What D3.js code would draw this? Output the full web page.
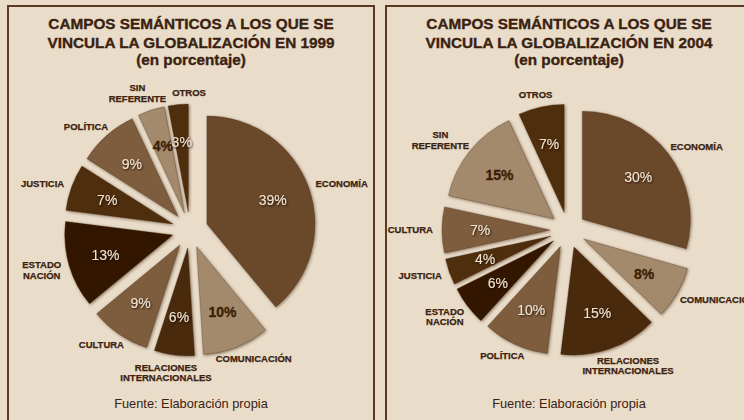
<!DOCTYPE html>
<html><head><meta charset="utf-8">
<script src="https://cdn.jsdelivr.net/npm/d3@7"></script>
<style>
html,body{margin:0;padding:0;background:#e9dcc9;}
svg{display:block;}
text{font-family:"Liberation Sans",Arial,Helvetica,sans-serif;}
</style></head><body>
<svg id="chart" width="744" height="420"></svg>
<script>
// ---- data ----
const titles1999 = ["CAMPOS SEMÁNTICOS A LOS QUE SE", "VINCULA LA GLOBALIZACIÓN EN 1999", "(en porcentaje)"];
const titles2004 = ["CAMPOS SEMÁNTICOS A LOS QUE SE", "VINCULA LA GLOBALIZACIÓN EN 2004", "(en porcentaje)"];
const categories1999 = ["ECONOMÍA", "COMUNICACIÓN", "RELACIONES INTERNACIONALES", "CULTURA", "ESTADO NACIÓN", "JUSTICIA", "POLÍTICA", "SIN REFERENTE", "OTROS"];
const values1999 = [39, 10, 6, 9, 13, 7, 9, 4, 3];
const categories2004 = ["ECONOMÍA", "COMUNICACIÓN", "RELACIONES INTERNACIONALES", "POLÍTICA", "ESTADO NACIÓN", "JUSTICIA", "CULTURA", "SIN REFERENTE", "OTROS"];
const values2004 = [30, 8, 15, 10, 6, 4, 7, 15, 7];
const sourceNote = "Fuente: Elaboración propia";

// ---- styles ----
const colorDomain = ["ECONOMÍA", "COMUNICACIÓN", "RELACIONES INTERNACIONALES", "CULTURA", "ESTADO NACIÓN", "JUSTICIA", "POLÍTICA", "SIN REFERENTE", "OTROS"];
const colorRange = ["#6b4a2b", "#a48a6c", "#4a2a0b", "#7d5d3d", "#311605", "#4f2f0c", "#7d5d3d", "#a48a6c", "#4f2f0c"];
const color = d3.scaleOrdinal().domain(colorDomain).range(colorRange);
const isLight = c => d3.hsl(color(c)).l > 0.45;
const ink = "#3b2210";

const svg = d3.select("#chart");
const defs = svg.append("defs");

const f1 = defs.append("filter").attr("id", "sliceShadow").attr("x", "-20%").attr("y", "-20%").attr("width", "140%").attr("height", "140%");
f1.append("feGaussianBlur").attr("in", "SourceAlpha").attr("stdDeviation", 1.8).attr("result", "b");
f1.append("feOffset").attr("in", "b").attr("dx", 1).attr("dy", 1).attr("result", "o");
f1.append("feFlood").attr("flood-color", "#3b1f08").attr("flood-opacity", 0.55);
f1.append("feComposite").attr("in2", "o").attr("operator", "in").attr("result", "s");
const m1 = f1.append("feMerge");
m1.append("feMergeNode").attr("in", "s");
m1.append("feMergeNode").attr("in", "SourceGraphic");

defs.append("filter").attr("id", "txtDark").append("feDropShadow")
  .attr("dx", 1).attr("dy", 1).attr("stdDeviation", 0.8).attr("flood-color", "#1e0d02").attr("flood-opacity", 0.9);

const panels = [
  {titles: titles1999, cats: categories1999, vals: values1999},
  {titles: titles2004, cats: categories2004, vals: values2004}
];
const panelScale = d3.scaleOrdinal().domain([0, 1]).range([8, 386]);
const panelW = 366;
const R = 108, explode = 18, pctR = 70, labelR = 135, lineH = 10.5;

const pie = d3.pie().sort(null).value(d => d.v);
const arc = d3.arc().innerRadius(0).outerRadius(R);

panels.forEach((p, i) => {
  const x0 = panelScale(i);
  const g = svg.append("g");
  g.append("rect").attr("x", x0).attr("y", 6).attr("width", panelW).attr("height", 440)
    .attr("fill", "none").attr("stroke", "#5c3b22").attr("stroke-width", 2);
  const cx = x0 + panelW / 2 - 1, cy = 230;

  // titles
  const ty = [29.3, 47.7, 65];
  p.titles.forEach((t, k) => {
    g.append("text").attr("x", x0 + panelW / 2).attr("y", ty[k]).attr("text-anchor", "middle")
      .attr("font-size", 15.3).attr("font-weight", "bold").attr("fill", ink)
      .attr("stroke", ink).attr("stroke-width", 0.35).text(t);
  });

  const data = pie(p.cats.map((c, k) => ({c, v: p.vals[k]})));
  const pg = g.append("g").attr("transform", `translate(${cx},${cy})`);

  const slices = pg.selectAll("g.slice").data(data).join("g").attr("class", "slice")
    .attr("transform", d => {
      const a = (d.startAngle + d.endAngle) / 2;
      return `translate(${explode * Math.sin(a)},${-explode * Math.cos(a)})`;
    });
  slices.append("path").attr("d", arc).attr("fill", d => color(d.data.c))
    .attr("stroke", "rgba(60,30,10,0.35)").attr("stroke-width", 0.8)
    .attr("filter", "url(#sliceShadow)");

  slices.append("text")
    .attr("x", d => { const a = (d.startAngle + d.endAngle) / 2; return pctR * Math.sin(a); })
    .attr("y", d => { const a = (d.startAngle + d.endAngle) / 2; return -pctR * Math.cos(a) + 5; })
    .attr("text-anchor", "middle").attr("font-size", 14)
    .attr("font-weight", d => isLight(d.data.c) ? "bold" : "normal")
    .attr("fill", d => isLight(d.data.c) ? "#3a1d04" : "#efe4d2")
    .attr("stroke", d => isLight(d.data.c) ? "#3a1d04" : "none")
    .attr("stroke-width", 0.3)
    .attr("filter", d => isLight(d.data.c) ? null : "url(#txtDark)")
    .text(d => d.data.v + "%");

  // category labels
  const boxes = [];
  data.forEach(d => {
    const a = (d.startAngle + d.endAngle) / 2;
    const ux = Math.sin(a), uy = -Math.cos(a);
    const lines = d.data.c.split(" ");
    const t = pg.append("text").attr("text-anchor", "middle").attr("font-size", 9.5)
      .attr("font-weight", "bold").attr("fill", ink).attr("stroke", ink).attr("stroke-width", 0.25);
    lines.forEach((l, k) => t.append("tspan").attr("x", 0).attr("y", k * lineH).text(l));
    const bb = t.node().getBBox();
    const w = bb.width, h = (lines.length - 1) * lineH + 7;
    const bx = labelR * ux + ux * w / 2;
    const by = labelR * uy + uy * h / 2;
    boxes.push({t, bx, by, w, h, n: lines.length});
  });
  for (let k = 1; k < boxes.length; k++) {
    const a = boxes[k], b = boxes[k - 1];
    const ox = (a.w + b.w) / 2 + 4 - Math.abs(a.bx - b.bx);
    const oy = (a.h + b.h) / 2 + 2 - Math.abs(a.by - b.by);
    if (ox > 0 && oy > 0) a.bx += (a.bx < b.bx ? -ox : ox);
  }
  const last = boxes[boxes.length - 1];
  const sl = boxes[boxes.length - 2];
  const ox2 = (last.w + sl.w) / 2 + 6 - Math.abs(last.bx - sl.bx);
  const oy2 = (last.h + sl.h) / 2 + 2 - Math.abs(last.by - sl.by);
  if (ox2 > 0 && oy2 > 0) sl.bx -= ox2;
  boxes.forEach(b => {
    const firstBase = b.by - (b.n - 1) * lineH / 2 + 3.4;
    b.t.selectAll("tspan").attr("x", b.bx).attr("y", (l, k) => firstBase + k * lineH);
  });

  g.append("text").attr("x", x0 + panelW / 2).attr("y", 408).attr("text-anchor", "middle")
    .attr("font-size", 12.8).attr("fill", ink).text(sourceNote);
});
</script>
</body></html>
